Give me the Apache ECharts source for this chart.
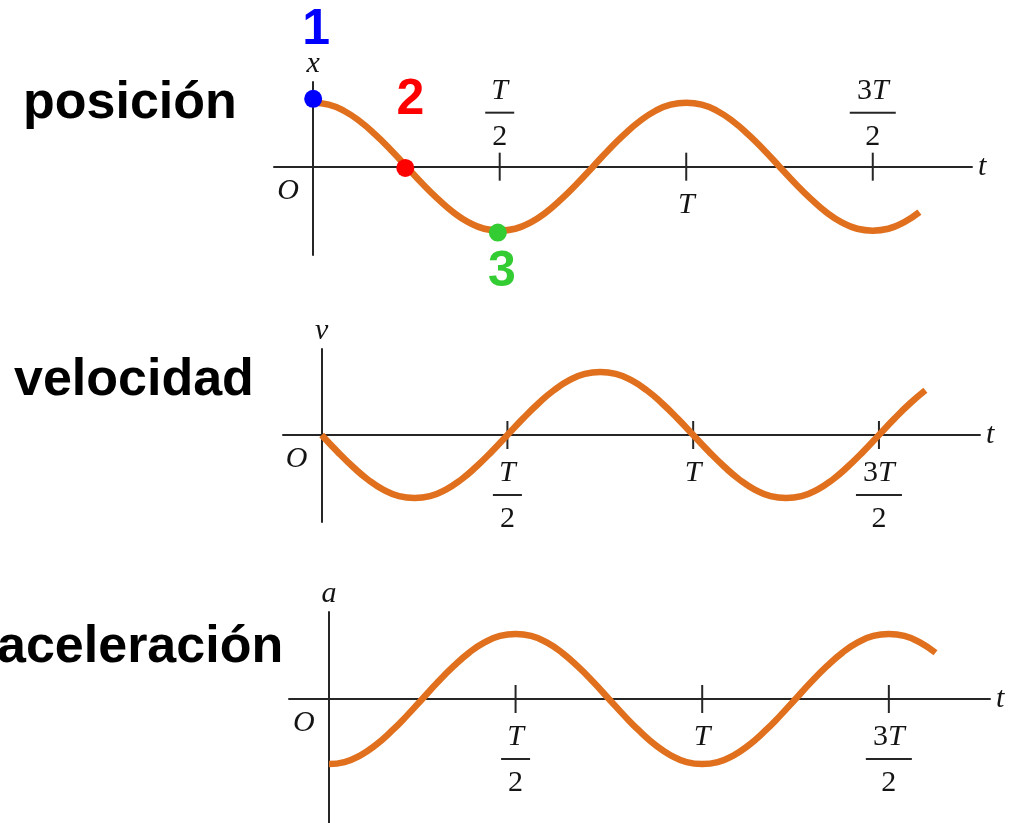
<!DOCTYPE html>
<html>
<head>
<meta charset="utf-8">
<script src="https://cdn.jsdelivr.net/npm/echarts@6/dist/echarts.min.js"></script>
<style>
html,body{margin:0;padding:0;background:#fff;}
#chart{width:1018px;height:823px;}
</style>
</head>
<body>
<div id="chart"></div>
<script>
// ---- data (time in units of the period T) ----
const tValues = [0, 0.0417, 0.0833, 0.125, 0.1667, 0.2083, 0.25, 0.2917, 0.3333, 0.375, 0.4167, 0.4583,
  0.5, 0.5417, 0.5833, 0.625, 0.6667, 0.7083, 0.75, 0.7917, 0.8333, 0.875, 0.9167, 0.9583,
  1, 1.0417, 1.0833, 1.125, 1.1667, 1.2083, 1.25, 1.2917, 1.3333, 1.375, 1.4167, 1.4583,
  1.5, 1.5417, 1.5833, 1.625];
const positionValues = [1, 0.97, 0.87, 0.71, 0.5, 0.26, 0, -0.26, -0.5, -0.71, -0.87, -0.97,
  -1, -0.97, -0.87, -0.71, -0.5, -0.26, 0, 0.26, 0.5, 0.71, 0.87, 0.97,
  1, 0.97, 0.87, 0.71, 0.5, 0.26, 0, -0.26, -0.5, -0.71, -0.87, -0.97,
  -1, -0.97, -0.87, -0.71];
const velocityValues = [0, -0.26, -0.5, -0.71, -0.87, -0.97, -1, -0.97, -0.87, -0.71, -0.5, -0.26,
  0, 0.26, 0.5, 0.71, 0.87, 0.97, 1, 0.97, 0.87, 0.71, 0.5, 0.26,
  0, -0.26, -0.5, -0.71, -0.87, -0.97, -1, -0.97, -0.87, -0.71, -0.5, -0.26,
  0, 0.26, 0.5, 0.71];
const accelerationValues = [-1, -0.97, -0.87, -0.71, -0.5, -0.26, 0, 0.26, 0.5, 0.71, 0.87, 0.97,
  1, 0.97, 0.87, 0.71, 0.5, 0.26, 0, -0.26, -0.5, -0.71, -0.87, -0.97,
  -1, -0.97, -0.87, -0.71, -0.5, -0.26, 0, 0.26, 0.5, 0.71, 0.87, 0.97,
  1, 0.97, 0.87, 0.71];
const panelTitles = ['posición', 'velocidad', 'aceleración'];
const axisNames = ['x', 'v', 'a'];
const timeAxisName = 't';
const originLabel = 'O';
const tickValues = [0.5, 1, 1.5];
const tickNumerators = ['T', 'T', '3T'];
const tickDenominators = ['2', '', '2'];
const pointT = [0, 0.247, 0.495];
const pointX = [1.06, -0.02, -1.03];
const pointLabels = ['1', '2', '3'];

// ---- layout & style ----
const ORANGE = '#E0701E';
const INK = '#141414';
const AXIS = '#262626';
const pointColors = ['#0000FF', '#FF0000', '#33CC33'];
const pointLabelOffsets = [[3, -69], [5, -68], [4, 40]];
const panels = [
  {grid:{left:274, top:82, width:698, height:173}, xmin:-0.105, xmax:1.766, ymin:-1.38, ymax:1.323,
   sides:['top','bottom','top'], values: positionValues, title:{x:23, y:104}},
  {grid:{left:283, top:349, width:697, height:173}, xmin:-0.104, xmax:1.772, ymin:-1.381, ymax:1.365,
   sides:['bottom','bottom','bottom'], values: velocityValues, title:{x:14, y:381}},
  {grid:{left:289, top:612, width:701, height:211}, xmin:-0.107, xmax:1.771, ymin:-1.908, ymax:1.338,
   sides:['bottom','bottom','bottom'], values: accelerationValues, title:{x:-3, y:648}}
];

const serif = '"Liberation Serif", "DejaVu Serif", serif';
const mathItalic = {fontFamily: serif, fontStyle:'italic', fontSize:30, color: INK};
const rich = {
  n: {fontFamily: serif, fontStyle:'italic', fontSize:30, lineHeight:30, color: INK, align:'center'},
  nu:{fontFamily: serif, fontSize:30, lineHeight:30, color: INK, align:'center'},
  d: {fontFamily: serif, fontSize:30, lineHeight:34, color: INK, align:'center'},
  bs:{width:29, height:2, lineHeight:14, backgroundColor: AXIS, align:'center'},
  bl:{width:46, height:2, lineHeight:14, backgroundColor: AXIS, align:'center'}
};
function numeratorRich(s){
  return s.split('').map(c => /[0-9]/.test(c) ? '{nu|' + c + '}' : '{n|' + c + '}').join('');
}
function fractionText(num, den){
  const top = numeratorRich(num);
  if (!den) return top;
  return top + '\n{' + (num.length > 1 ? 'bl' : 'bs') + '|}\n{d|' + den + '}';
}

const grids = [], xAxes = [], yAxes = [], series = [], graphics = [];
panels.forEach((p, i) => {
  grids.push(Object.assign({containLabel:false}, p.grid));
  xAxes.push({
    type:'value', gridIndex:i, min:p.xmin, max:p.xmax,
    axisLine:{show:true, onZero:true, lineStyle:{color:AXIS, width:2}},
    axisTick:{show:false}, axisLabel:{show:false}, splitLine:{show:false},
    name: timeAxisName, nameLocation:'end', nameGap:6, nameTextStyle: mathItalic
  });
  yAxes.push({
    type:'value', gridIndex:i, min:p.ymin, max:p.ymax,
    axisLine:{show:true, onZero:true, lineStyle:{color:AXIS, width:2}},
    axisTick:{show:false}, axisLabel:{show:false}, splitLine:{show:false},
    name: axisNames[i], nameLocation:'end', nameGap:3, nameTextStyle: mathItalic
  });
  // ticks with fraction labels
  series.push({
    type:'scatter', xAxisIndex:i, yAxisIndex:i, silent:true, z:2,
    symbol:'rect', symbolSize:[2, 28], itemStyle:{color:AXIS, opacity:1},
    data: tickValues.map((v, k) => ({
      value:[v, 0],
      label:{show:true, position:p.sides[k], distance: p.sides[k] === 'top' ? -1 : 9,
        formatter: fractionText(tickNumerators[k], tickDenominators[k]), rich: rich}
    }))
  });
  // origin label
  series.push({
    type:'scatter', xAxisIndex:i, yAxisIndex:i, silent:true, symbolSize:0,
    itemStyle:{opacity:1},
    data:[[0, 0]],
    label:{show:true, position:'inside', formatter: originLabel, offset:[-25, 24],
      fontFamily: serif, fontStyle:'italic', fontSize:30, color: INK}
  });
  // curve
  series.push({
    type:'line', xAxisIndex:i, yAxisIndex:i, silent:true, z:3,
    smooth:true, showSymbol:false, symbol:'none',
    lineStyle:{color:ORANGE, width:6.5},
    data: tValues.map((t, k) => [t, p.values[k]])
  });
  graphics.push({
    type:'text', x:p.title.x, y:p.title.y,
    style:{text: panelTitles[i], font:'bold 52px "Liberation Sans", Arial, sans-serif', fill:'#000',
      align:'left', verticalAlign:'middle', textAlign:'left', textVerticalAlign:'middle'}
  });
});

// marked points on the position curve
series.push({
  type:'scatter', xAxisIndex:0, yAxisIndex:0, silent:true, z:5, symbolSize:18,
  data: pointT.map((t, k) => ({
    value:[t, pointX[k]],
    itemStyle:{color: pointColors[k], opacity:1},
    label:{show:true, position:'inside', offset: pointLabelOffsets[k], formatter: pointLabels[k],
      fontFamily:'"Liberation Sans", Arial, sans-serif', fontWeight:'bold', fontSize:50, color: pointColors[k]}
  }))
});

const chart = echarts.init(document.getElementById('chart'), null, {renderer:'canvas'});
chart.setOption({
  animation:false,
  backgroundColor:'#ffffff',
  grid: grids, xAxis: xAxes, yAxis: yAxes, series: series, graphic: graphics
});
</script>
</body>
</html>
